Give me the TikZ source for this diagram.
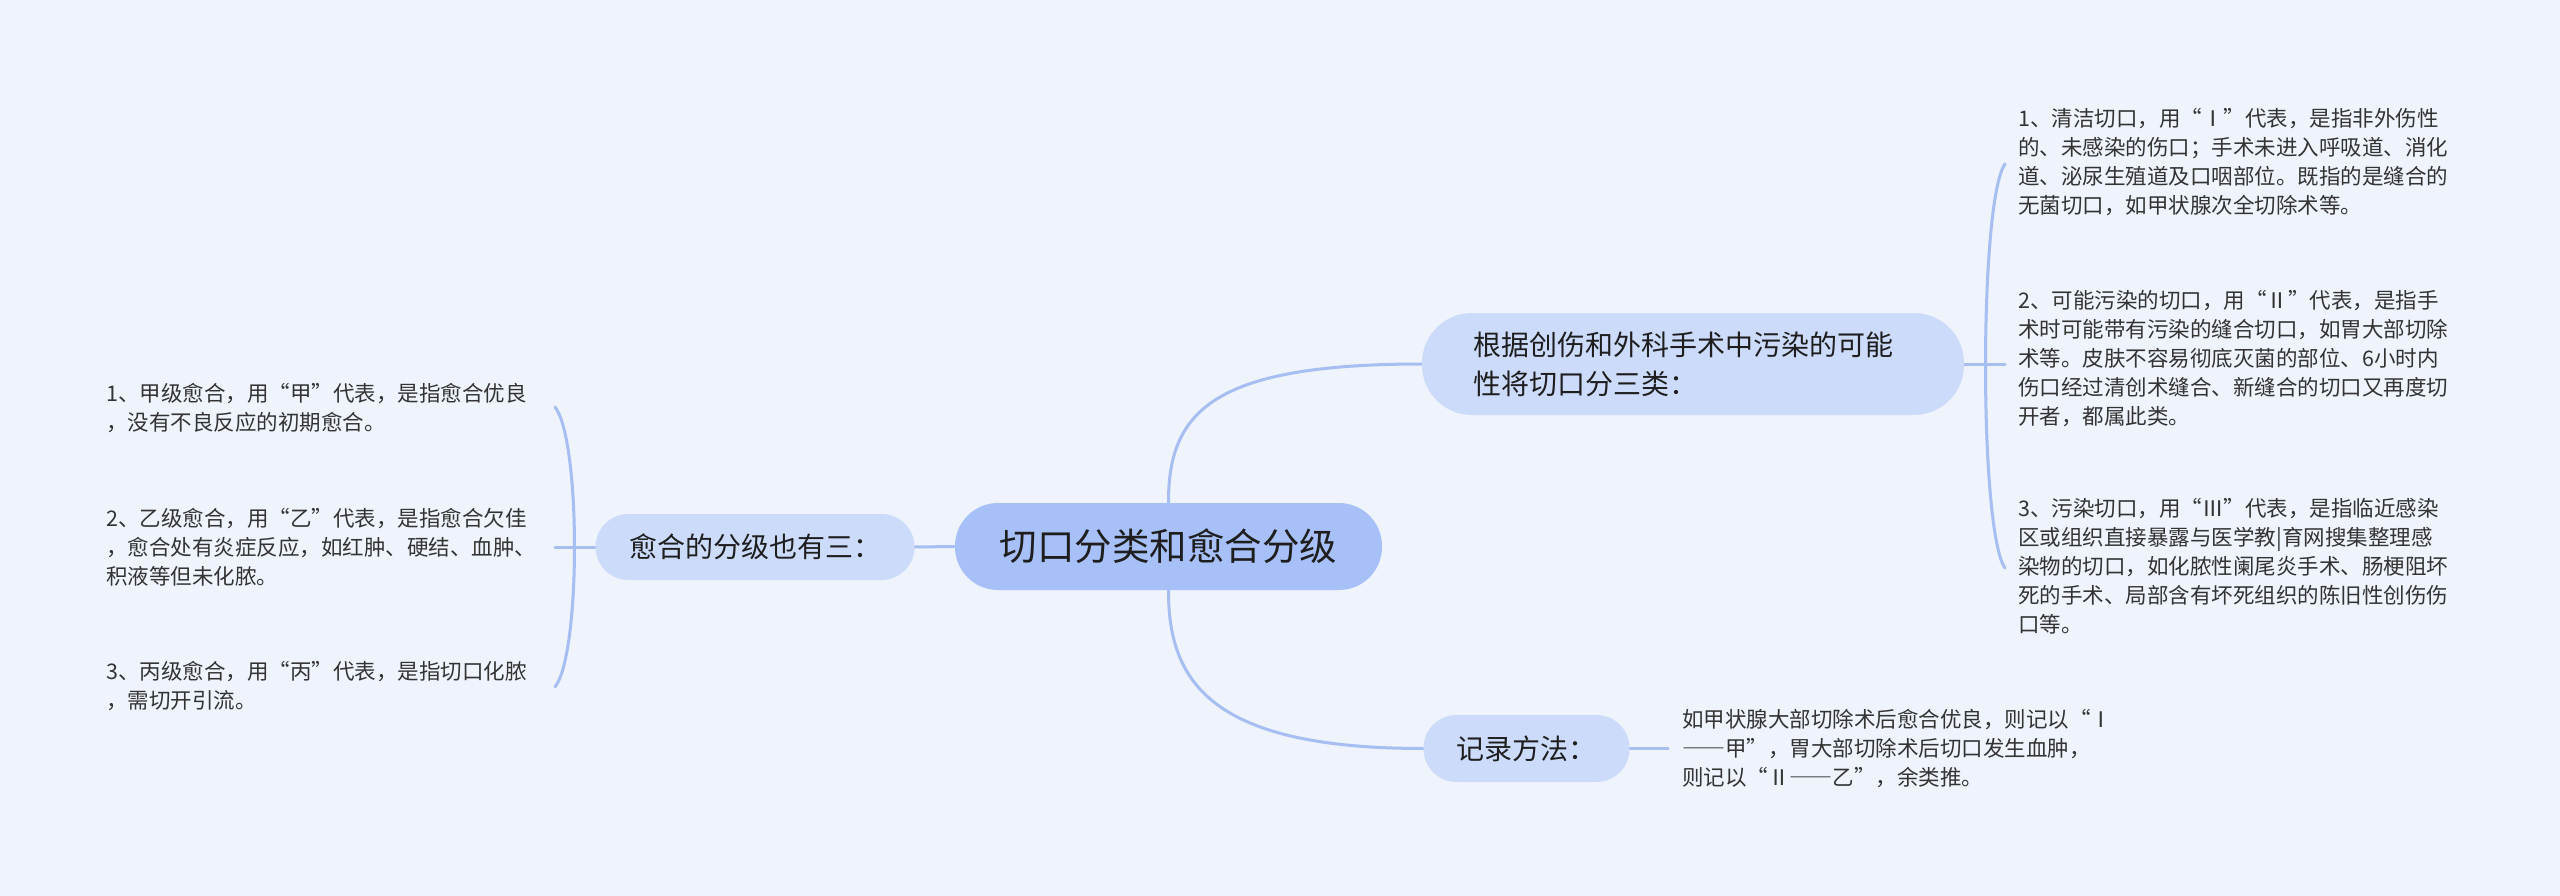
\documentclass[tikz,border=0pt]{standalone}
\usepackage{fontspec}
\newfontfamily\cjk{Noto Sans CJK SC}
\newcommand{\fwdash}{{\addfontfeature{RawFeature=+fwid}——}}
\definecolor{bgc}{HTML}{EEF3FC}
\definecolor{rootc}{HTML}{A7C1F8}
\definecolor{subc}{HTML}{CCDBFA}
\definecolor{linec}{HTML}{A6BEF1}
\definecolor{txtc}{HTML}{333333}
\definecolor{ntxt}{HTML}{1E1E1E}
\pgfdeclarelayer{bglayer}
\pgfdeclarelayer{edgelayer}
\pgfsetlayers{bglayer,edgelayer,main}
\tikzset{
  rootbox/.style={fill=rootc, rounded corners=43pt, minimum width=427pt, minimum height=87pt, inner sep=0pt, text=ntxt, font=\cjk\fontsize{37.5pt}{45pt}\selectfont},
  subbox/.style={fill=subc, inner sep=0pt, text=ntxt, font=\cjk\fontsize{28pt}{39pt}\selectfont},
  leaf/.style={anchor=west, inner sep=0pt, align=left, text=txtc, font=\cjk\fontsize{21.5pt}{29pt}\selectfont},
  conn/.style={draw=linec, line width=3pt, line cap=round}
}
\begin{document}
\begin{tikzpicture}[x=1pt,y=-1pt]
\begin{pgfonlayer}{bglayer}
\fill[bgc] (0,0) rectangle (2560,896);
\end{pgfonlayer}
\useasboundingbox (0,0) rectangle (2560,896);

% central node
\node[rootbox] (root) at (1168.5,546.5) {切口分类和愈合分级};

% branch nodes
\node[subbox, rounded corners=33pt, minimum width=319pt, minimum height=66pt] (heal) at (755,547) {愈合的分级也有三：};
\node[subbox, rounded corners=50pt, minimum width=542pt, minimum height=102pt, align=left, text width=440pt] (cls) at (1693,364) {根据创伤和外科手术中污染的可能\\性将切口分三类：};
\node[subbox, rounded corners=33pt, minimum width=206pt, minimum height=67pt] (rec) at (1526.5,748.5) {记录方法：};

% leaves left
\node[leaf] (h1) at (106,408) {1、甲级愈合，用“甲”代表，是指愈合优良\\，没有不良反应的初期愈合。};
\node[leaf] (h2) at (106,547) {2、乙级愈合，用“乙”代表，是指愈合欠佳\\，愈合处有炎症反应，如红肿、硬结、血肿、\\积液等但未化脓。};
\node[leaf] (h3) at (106,686.5) {3、丙级愈合，用“丙”代表，是指切口化脓\\，需切开引流。};

% leaves right
\node[leaf] (c1) at (2018,162.5) {1、清洁切口，用“Ⅰ”代表，是指非外伤性\\的、未感染的伤口；手术未进入呼吸道、消化\\道、泌尿生殖道及口咽部位。既指的是缝合的\\无菌切口，如甲状腺次全切除术等。};
\node[leaf] (c2) at (2018,358.5) {2、可能污染的切口，用“Ⅱ”代表，是指手\\术时可能带有污染的缝合切口，如胃大部切除\\术等。皮肤不容易彻底灭菌的部位、6小时内\\伤口经过清创术缝合、新缝合的切口又再度切\\开者，都属此类。};
\node[leaf] (c3) at (2018,566.5) {3、污染切口，用“Ⅲ”代表，是指临近感染\\区或组织直接暴露与医学教|育网搜集整理感\\染物的切口，如化脓性阑尾炎手术、肠梗阻坏\\死的手术、局部含有坏死组织的陈旧性创伤伤\\口等。};

% leaf bottom
\node[leaf] (r1) at (1682,748.5) {如甲状腺大部切除术后愈合优良，则记以“Ⅰ\\\fwdash 甲”，胃大部切除术后切口发生血肿，\\则记以“Ⅱ\fwdash 乙”，余类推。};

% bracket coordinates
\coordinate (lbt) at (555,407);
\coordinate (lbm) at (555,547);
\coordinate (lbb) at (555,687);
\coordinate (rbt) at (2005,164);
\coordinate (rbm) at (2005,364);
\coordinate (rbb) at (2005,568);
\coordinate (rl) at (1668,748.5);

\begin{pgfonlayer}{edgelayer}
\draw[conn] (root.west) -- (heal.east);
\draw[conn] (root.north) .. controls (1168,410) and (1215,364) .. (cls.west);
\draw[conn] (root.south) .. controls (1168,685) and (1215,748.5) .. (rec.west);
\draw[conn] (heal.west) -- (lbm);
\draw[conn] (lbt) .. controls (581,440) and (581,654) .. (lbb);
\draw[conn] (cls.east) -- (rbm);
\draw[conn] (rbt) .. controls (1979,200) and (1979,532) .. (rbb);
\draw[conn] (rec.east) -- (rl);
\end{pgfonlayer}
\end{tikzpicture}
\end{document}
